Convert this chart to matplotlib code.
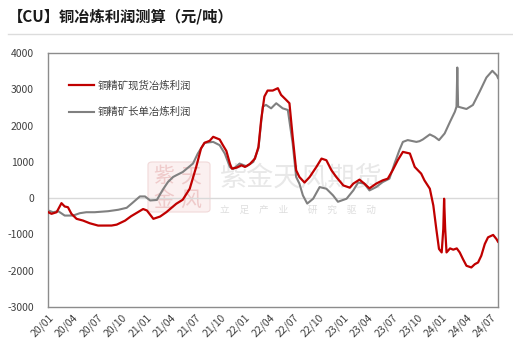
import matplotlib
matplotlib.use("Agg")
import matplotlib.pyplot as plt
import matplotlib.dates as mdates
from matplotlib.patches import FancyBboxPatch
import pandas as pd

plt.rcParams['font.family'] = ['Noto Sans CJK SC', 'DejaVu Sans']

title = "【CU】铜冶炼利润测算（元/吨）"
spot_label = "铜精矿现货冶炼利润"
long_label = "铜精矿长单冶炼利润"

spot_dates = [
    "2020-01-02", "2020-01-14", "2020-02-02", "2020-02-20", "2020-03-03", "2020-03-15",
    "2020-03-28", "2020-04-16", "2020-05-10", "2020-06-04", "2020-07-05", "2020-08-24",
    "2020-09-12", "2020-10-13", "2020-11-04", "2020-12-19", "2021-01-02", "2021-01-26",
    "2021-02-20", "2021-03-15", "2021-04-21", "2021-05-15", "2021-06-10", "2021-07-04",
    "2021-07-22", "2021-08-04", "2021-08-23", "2021-09-05", "2021-09-29", "2021-10-11",
    "2021-10-24", "2021-11-06", "2021-11-13", "2021-12-01", "2021-12-19", "2022-01-01",
    "2022-01-19", "2022-02-07", "2022-02-20", "2022-03-02", "2022-03-14", "2022-03-26",
    "2022-04-14", "2022-05-03", "2022-05-15", "2022-06-03", "2022-06-15", "2022-06-27",
    "2022-07-10", "2022-07-22", "2022-08-10", "2022-08-29", "2022-09-23", "2022-10-12",
    "2022-10-30", "2022-11-18", "2022-12-06", "2023-01-01", "2023-01-25", "2023-02-07",
    "2023-03-02", "2023-03-20", "2023-04-08", "2023-05-03", "2023-05-27", "2023-06-15",
    "2023-07-03", "2023-07-22", "2023-08-10", "2023-09-05", "2023-09-23", "2023-10-05",
    "2023-10-17", "2023-10-29", "2023-11-18", "2023-12-01", "2023-12-12", "2023-12-22",
    "2024-01-01", "2024-01-07", "2024-01-10", "2024-01-14", "2024-01-19", "2024-02-01",
    "2024-02-13", "2024-02-26", "2024-03-08", "2024-03-20", "2024-04-02", "2024-04-20",
    "2024-05-03", "2024-05-15", "2024-05-27", "2024-06-09", "2024-06-21", "2024-07-10",
    "2024-07-22", "2024-07-28",
]
spot_profit = [
    -388, -432, -388, -138, -230, -250,
    -432, -570, -618, -692, -756, -755,
    -730, -620, -500, -300, -340, -570,
    -507, -388, -155, -44, 260, 860,
    1370, 1525, 1580, 1690, 1617, 1460,
    1300, 953, 815, 840, 905, 860,
    940, 1090, 1413, 2152, 2800, 2965,
    2965, 3030, 2845, 2706, 2615, 1690,
    767, 582, 430, 582, 860, 1090,
    1045, 767, 582, 350, 288, 400,
    510, 400, 270, 400, 490, 537,
    767, 1045, 1275, 1230, 860, 767,
    675, 490, 260, -202, -848, -1400,
    -1496, -848, -16, -848, -1496, -1385,
    -1420, -1385, -1496, -1680, -1864, -1910,
    -1820, -1773, -1587, -1263, -1080, -1014,
    -1125, -1200,
]

long_dates = [
    "2020-01-02", "2020-01-20", "2020-02-08", "2020-03-03", "2020-04-03", "2020-04-28",
    "2020-05-22", "2020-06-22", "2020-08-11", "2020-09-18", "2020-10-19", "2020-11-08",
    "2020-12-07", "2020-12-26", "2021-01-14", "2021-02-08", "2021-03-02", "2021-03-21",
    "2021-04-09", "2021-04-21", "2021-05-15", "2021-06-22", "2021-07-10", "2021-08-04",
    "2021-09-05", "2021-09-29", "2021-10-18", "2021-11-06", "2021-11-18", "2021-12-12",
    "2022-01-07", "2022-02-01", "2022-02-20", "2022-03-08", "2022-03-20", "2022-04-08",
    "2022-04-27", "2022-05-21", "2022-06-09", "2022-06-27", "2022-07-10", "2022-07-22",
    "2022-08-04", "2022-08-20", "2022-09-11", "2022-10-05", "2022-10-30", "2022-11-24",
    "2022-12-12", "2023-01-13", "2023-02-07", "2023-02-25", "2023-03-20", "2023-04-08",
    "2023-05-03", "2023-05-27", "2023-06-21", "2023-07-10", "2023-07-28", "2023-08-10",
    "2023-08-28", "2023-09-29", "2023-10-11", "2023-10-23", "2023-11-18", "2023-12-06",
    "2023-12-22", "2024-01-12", "2024-02-01", "2024-02-19", "2024-02-25", "2024-02-28",
    "2024-03-02", "2024-04-02", "2024-04-26", "2024-05-21", "2024-06-15", "2024-07-07",
    "2024-07-24", "2024-07-28",
]
long_profit = [
    -340, -388, -360, -480, -480, -415,
    -388, -388, -360, -320, -266, -140,
    47, 47, -64, -50, 233, 443,
    582, 630, 720, 953, 1230, 1525,
    1550, 1460, 1230, 860, 800, 953,
    878, 1000, 1370, 2520, 2570, 2475,
    2615, 2475, 2430, 1507, 582, 400,
    75, -150, -16, 305, 260, 75,
    -100, -16, 213, 430, 400, 213,
    305, 443, 537, 953, 1321, 1550,
    1600, 1550, 1570, 1617, 1756, 1690,
    1598, 1783, 2105, 2382, 2520, 3600,
    2520, 2457, 2568, 2936, 3324, 3510,
    3380, 3310,
]

y_ticks = [-3000, -2000, -1000, 0, 1000, 2000, 3000, 4000]
x_start, x_end = "2020-01-01", "2024-07-28"

W, H = 513, 357
fig = plt.figure(figsize=(W / 100, H / 100), dpi=100)
ax = fig.add_axes([48 / W, 1 - 307 / H, 450 / W, 254 / H])


def fx(px):
    return px / W


def fy(py):
    return 1 - py / H


# watermark (behind the lines)
logo = FancyBboxPatch((fx(148), fy(212)), fx(210) - fx(148), fy(162) - fy(212),
                      boxstyle="round,pad=0,rounding_size=0.008",
                      transform=fig.transFigure, facecolor="#fbf0f0",
                      edgecolor="#f1d9d9", lw=0.8, zorder=0.5, clip_on=False)
ax.add_patch(logo)
for ch, px, py in [("紫", 164, 176), ("天", 191, 176), ("金", 164, 200), ("风", 191, 200)]:
    ax.text(fx(px), fy(py), ch, transform=fig.transFigure, fontsize=15,
            color="#efcaca", ha="center", va="center", zorder=0.6)
ax.text(fx(220), fy(178), "紫金天风期货", transform=fig.transFigure, fontsize=19.5,
        color="#e8e8e8", ha="left", va="center", zorder=0.6)
ax.text(fx(220), fy(210), "立　足　产　业　　研　究　驱　动", transform=fig.transFigure,
        fontsize=7, color="#dedede", ha="left", va="center", zorder=0.6)

ax.axhline(0, color="#d9d9d9", lw=1.0, zorder=1)

sd = pd.to_datetime(spot_dates)
ld = pd.to_datetime(long_dates)
ax.plot(sd, spot_profit, color="#c00000", lw=1.6, label=spot_label, zorder=3)
ax.plot(ld, long_profit, color="#808080", lw=1.5, label=long_label, zorder=2)

ax.set_xlim(pd.Timestamp(x_start), pd.Timestamp(x_end))
ax.set_ylim(-3000, 4000)
ax.set_yticks(y_ticks)
ax.set_yticklabels([str(v) for v in y_ticks])

ax.xaxis.set_major_locator(mdates.MonthLocator(bymonth=[1, 4, 7, 10]))
ax.xaxis.set_major_formatter(mdates.DateFormatter("%y/%m"))
ax.tick_params(axis="both", length=0, labelsize=7.5, colors="#404040")
ax.tick_params(axis="y", pad=10)
ax.tick_params(axis="x", pad=4)
for lab in ax.get_xticklabels():
    lab.set_rotation(45)
    lab.set_ha("right")
    lab.set_rotation_mode("anchor")

for s in ax.spines.values():
    s.set_color("#8c8c8c")
    s.set_linewidth(1.0)

leg = ax.legend(loc="upper left", bbox_to_anchor=(0.047, 0.892), frameon=False,
                fontsize=7.5, handlelength=2.4, handletextpad=0.3,
                labelspacing=1.55, borderpad=0, borderaxespad=0)
for t in leg.get_texts():
    t.set_color("#404040")

fig.text(fx(8), fy(17), title, fontsize=11, fontweight="bold", color="#1a1a1a",
         ha="left", va="center")
fig.add_artist(plt.Line2D([fx(8), 1.0], [fy(34), fy(34)], transform=fig.transFigure,
                          color="#dcdcdc", lw=1.0))

fig.savefig("out.png", dpi=100, facecolor="white")
